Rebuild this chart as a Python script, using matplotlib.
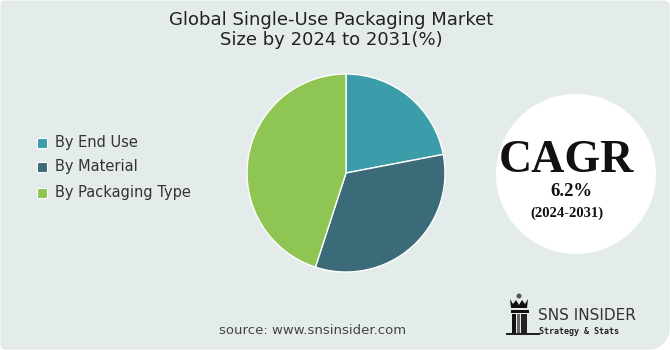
import numpy as np
import matplotlib
matplotlib.use('Agg')
import matplotlib.pyplot as plt
from matplotlib.patches import FancyBboxPatch, Circle, Rectangle, Polygon

# 데이터
labels = ['By End Use', 'By Material', 'By Packaging Type']
shares = [22, 33, 45]
colors = ['#3A9DA9', '#3B6A78', '#8FC552']
title = 'Global Single-Use Packaging Market\nSize by 2024 to 2031(%)'
cagr_value = '6.2%'
cagr_period = '(2024-2031)'
source = 'source: www.snsinsider.com'

W, H = 670, 350
bg = '#E4ECEB'

fig = plt.figure(figsize=(W / 100, H / 100), dpi=100)
fig.patch.set_facecolor('white')

# 픽셀 좌표용 배경 축
deco = fig.add_axes([0, 0, 1, 1])
deco.set_xlim(0, W)
deco.set_ylim(H, 0)
deco.axis('off')

deco.add_patch(FancyBboxPatch((1, 1), W - 2, H - 2, boxstyle='round,pad=0,rounding_size=5',
                              facecolor=bg, edgecolor='#DCE4E3', linewidth=0.6))
# 오른쪽 아래 둥근 모서리
r = 22
t = np.linspace(0, np.pi / 2, 20)
arc = [(W - r + r * np.cos(a), H - r + r * np.sin(a)) for a in t]
deco.add_patch(Polygon([(W, H - r), (W, H), (W - r, H)] + arc[::-1], closed=True,
                       facecolor='white', edgecolor='none'))

# 제목
deco.text(331, 30, title, ha='center', va='center', fontsize=13, color='#222222',
          family='DejaVu Sans', linespacing=1.15)

# 범례
legend_y = [143, 167, 193]
for lab, col, y in zip(labels, colors, legend_y):
    deco.add_patch(Rectangle((37, y - 5), 10, 10, facecolor=col, edgecolor='white', linewidth=0.8))
    deco.text(55, y, lab, ha='left', va='center', fontsize=10.5, color='#333333')

# 파이 차트
cx, cy, rad = 346, 173, 100
ax = fig.add_axes([(cx - rad) / W, (H - cy - rad) / H, 2 * rad / W, 2 * rad / H])
ax.pie(shares, colors=colors, startangle=90, counterclock=False, radius=0.99,
       wedgeprops=dict(edgecolor='white', linewidth=1))
ax.set_xlim(-1, 1)
ax.set_ylim(-1, 1)
ax.set_aspect('equal')
ax.axis('off')

# CAGR 원
deco.add_patch(Circle((576, 174), 80, facecolor='white', edgecolor='none'))
deco.text(566, 161, 'CAGR', ha='center', va='center', fontsize=33, fontweight='heavy',
          family='Liberation Serif', color='#111111')
deco.text(571, 192, cagr_value, ha='center', va='center', fontsize=13.5, fontweight='bold',
          family='Liberation Serif', color='#111111')
deco.text(567, 213, cagr_period, ha='center', va='center', fontsize=10.5, fontweight='bold',
          family='Liberation Serif', color='#111111')

# 출처
deco.text(313, 330, source, ha='center', va='center', fontsize=9.5, color='#444444')

# 로고
deco.add_patch(Circle((519, 296), 2.5, facecolor='#555555', edgecolor='none'))
deco.add_patch(Polygon([(510, 299), (513, 304), (516, 300), (519, 305), (522, 300),
                        (525, 304), (528, 299), (527, 308), (511, 308)],
                       closed=True, facecolor='#111111', edgecolor='none'))
deco.add_patch(Rectangle((511, 310), 18, 3, facecolor='#111111'))
deco.add_patch(Rectangle((512, 314), 4, 20, facecolor='#111111'))
deco.add_patch(Rectangle((517, 314), 3, 20, facecolor='#666666'))
deco.add_patch(Rectangle((521, 314), 6, 20, facecolor='#222222'))
deco.add_patch(Rectangle((506, 333), 34, 1.5, facecolor='#222222'))
deco.text(538, 316, 'SNS INSIDER', ha='left', va='center', fontsize=11, color='#333333',
          family='DejaVu Sans')
deco.text(539, 331, 'Strategy & Stats', ha='left', va='center', fontsize=6, color='#222222',
          family='DejaVu Sans Mono', fontweight='bold')

fig.savefig('out.png', dpi=100, facecolor='white')
